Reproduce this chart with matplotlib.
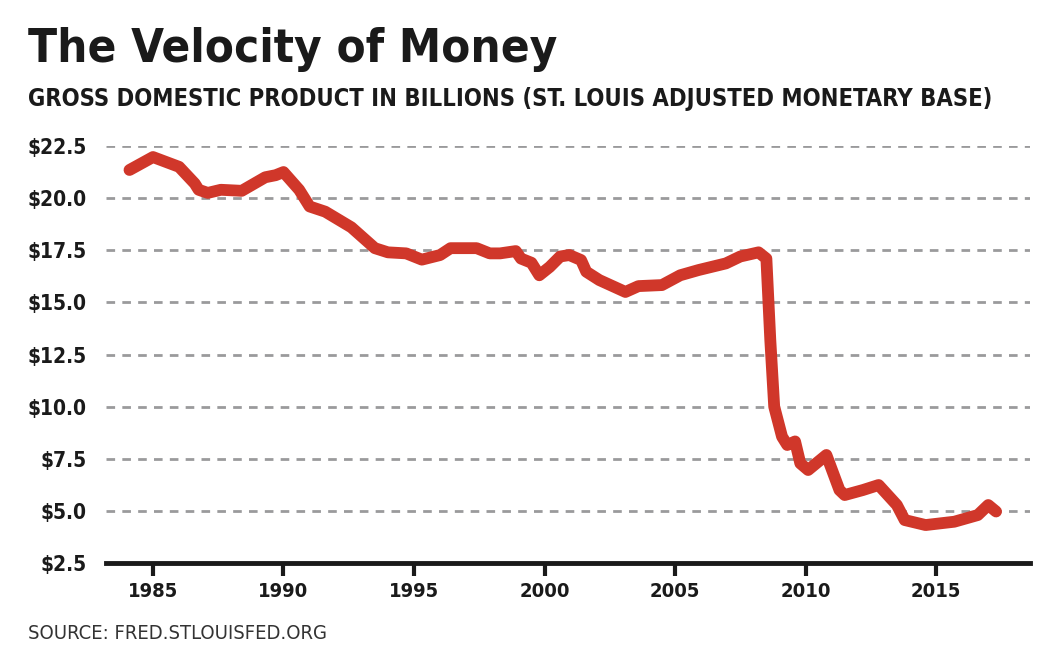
import numpy as np
import matplotlib
matplotlib.use("Agg")
import matplotlib.pyplot as plt

# ------------------------------------------------
# DATA
# ------------------------------------------------

years = [1984.1, 1985.0, 1986.0, 1986.6, 1986.75, 1987.1, 1987.6, 1988.4, 1989.3, 1989.7,
         1990.0, 1990.6, 1991.0, 1991.6, 1992.6, 1993.5, 1994.0, 1994.7, 1995.3, 1996.0,
         1996.4, 1997.4, 1997.9, 1998.3, 1998.9, 1999.1, 1999.5, 1999.8, 2000.2, 2000.6,
         2000.95, 2001.4, 2001.6, 2002.1, 2003.1, 2003.6, 2004.5, 2005.2, 2005.9, 2006.95,
         2007.5, 2008.2, 2008.5, 2008.65, 2008.8, 2009.1, 2009.3, 2009.6, 2009.8, 2010.1,
         2010.8, 2011.3, 2011.5, 2012.2, 2012.8, 2013.5, 2013.8, 2014.6, 2015.7, 2016.6,
         2017.0, 2017.3]
velocity = [21.35, 21.97, 21.5, 20.7, 20.4, 20.25, 20.4, 20.35, 21.0, 21.1,
            21.25, 20.4, 19.6, 19.35, 18.6, 17.6, 17.4, 17.35, 17.05, 17.27,
            17.6, 17.6, 17.35, 17.35, 17.46, 17.1, 16.9, 16.3, 16.7, 17.2,
            17.27, 17.03, 16.47, 16.07, 15.5, 15.78, 15.83, 16.3, 16.55, 16.87,
            17.2, 17.4, 17.1, 13.2, 10.0, 8.56, 8.16, 8.33, 7.28, 6.96,
            7.68, 6.0, 5.76, 6.0, 6.24, 5.28, 4.56, 4.32, 4.48, 4.8,
            5.28, 4.97]

year_ticks = [1985, 1990, 1995, 2000, 2005, 2010, 2015]
value_ticks = [2.5, 5.0, 7.5, 10.0, 12.5, 15.0, 17.5, 20.0, 22.5]

title = "The Velocity of Money"
subtitle = "GROSS DOMESTIC PRODUCT IN BILLIONS (ST. LOUIS ADJUSTED MONETARY BASE)"
source = "SOURCE: FRED.STLOUISFED.ORG"

# ------------------------------------------------
# FIGURE
# ------------------------------------------------

plt.rcParams['font.family'] = ['DejaVu Sans']

W, H = 1057, 656
fig = plt.figure(figsize=(W/100, H/100), dpi=100)
ax = fig.add_axes([106/W, 1-563/H, (1030-106)/W, (563-146)/H])

ax.plot(years, velocity, color='#d0372a', lw=8.5, solid_capstyle='round',
        solid_joinstyle='round', clip_on=False, zorder=3)

ax.set_xlim(1983.2, 2018.6)
ax.set_ylim(2.5, 22.5)

for v in value_ticks[1:]:
    ax.axhline(v, color='#9a9a9c', lw=2, dashes=(3.1, 2.6), zorder=1)

for s in ['top', 'right', 'left']:
    ax.spines[s].set_visible(False)
ax.spines['bottom'].set_linewidth(3.5)
ax.spines['bottom'].set_color('#1a1a1a')
ax.spines['bottom'].set_zorder(4)

ax.set_xticks(year_ticks)
ax.set_xticklabels([str(y) for y in year_ticks], fontsize=14.5, fontweight='bold',
                   fontstretch='condensed', color='#1a1a1a')
ax.tick_params(axis='x', direction='out', length=9, width=3, color='#1a1a1a', pad=5)

ax.set_yticks(value_ticks)
ax.set_yticklabels([f"${v:.1f}" for v in value_ticks], fontsize=15, fontweight='bold',
                   fontstretch='condensed', color='#1a1a1a')
ax.tick_params(axis='y', length=0, pad=14)

fig.text(28/W, 1-62/H, title, fontsize=34, fontweight='bold', fontstretch='condensed',
         color='#1a1a1a', ha='left', va='baseline')
fig.text(28/W, 1-106/H, subtitle, fontsize=17, fontweight='bold', fontstretch='condensed',
         color='#1a1a1a', ha='left', va='baseline')
fig.text(28/W, 1-639/H, source, fontsize=14.5, fontstretch='condensed',
         color='#333333', ha='left', va='baseline')

fig.savefig('out.png', dpi=100)
